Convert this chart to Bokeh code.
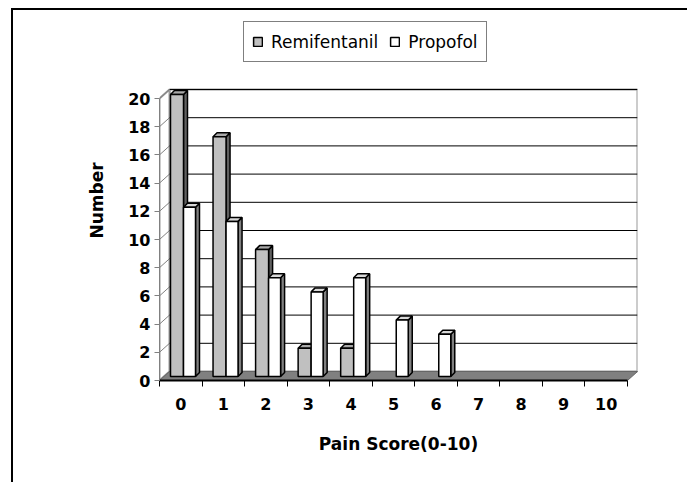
from bokeh.plotting import figure
from bokeh.models import Range1d, FixedTicker, Legend, LegendItem, ColumnDataSource
from bokeh.embed import file_html
from bokeh.resources import INLINE

# ---- data ----
categories = [0, 1, 2, 3, 4, 5, 6, 7, 8, 9, 10]
cat_labels = ["0", "1", "2", "3", "4", "5", "6", "7", "8", "9", "10"]
remifentanil = [20, 17, 9, 2, 2, 0, 0, 0, 0, 0, 0]
propofol = [12, 11, 7, 6, 7, 4, 3, 0, 0, 0, 0]
y_ticks = [0, 2, 4, 6, 8, 10, 12, 14, 16, 18, 20]
series_names = ["Remifentanil", "Propofol"]

# ---- layout (pixels) ----
W, H = 676, 474
FL, FT, FW, FH = 146, 10, 478, 360
WALL_H = 291
DX_PX, DY_PX = 10, 9           # wall depth
BAR_DX_PX, BAR_DY_PX = 4, 4    # bar depth
LIFT_PX = 4
n = len(categories)
y_top = y_ticks[-1]
PXX = (FW - DX_PX) / n
PXY = (WALL_H - DY_PX) / y_top
dx, dy = DX_PX / PXX, DY_PX / PXY
bx, by = BAR_DX_PX / PXX, BAR_DY_PX / PXY
lift = LIFT_PX / PXY
x0 = categories[0] - 0.5
x1 = categories[-1] + 0.5

p = figure(width=W, height=H, output_backend="svg", toolbar_location=None,
           x_range=Range1d(x0, x1 + dx), y_range=Range1d(0, FH / PXY),
           min_border_left=FL, min_border_top=FT,
           min_border_right=W - FL - FW, min_border_bottom=H - FT - FH)
p.styles = {"border-left": "2px solid #000", "border-top": "2px solid #000",
            "margin-left": "11px", "margin-top": "8px"}
p.outline_line_color = None
p.grid.visible = False
p.background_fill_color = "white"
p.border_fill_color = "white"

# walls and floor
p.patch([x0 + dx, x1 + dx, x1 + dx, x0 + dx], [dy, dy, y_top + dy, y_top + dy],
        fill_color="white", line_color="#999999", line_width=2)
p.patch([x0, x0 + dx, x0 + dx, x0], [0, dy, y_top + dy, y_top],
        fill_color="white", line_color="#999999", line_width=2)
p.segment(x0=[x0 + dx] * len(y_ticks), y0=[t + dy for t in y_ticks],
          x1=[x1 + dx] * len(y_ticks), y1=[t + dy for t in y_ticks],
          line_color="#000000", line_width=1)
p.segment(x0=[x0] * len(y_ticks), y0=y_ticks,
          x1=[x0 + dx] * len(y_ticks), y1=[t + dy for t in y_ticks],
          line_color="#808080", line_width=1)
p.patch([x0, x1, x1 + dx, x0 + dx], [0, 0, dy, dy],
        fill_color="#808080", line_color="#666666", line_width=1)

# bars
bar_px = [(11, 24), (24, 36)]
styles = [("#C0C0C0", "#A8A8A8", "#606060"), ("#FFFFFF", "#D8D8D8", "#808080")]
fronts = []
for vals, (a, b), (cf, ct, cs) in zip([remifentanil, propofol], bar_px, styles):
    L, R, B, T = [], [], [], []
    tx, ty, sx, sy = [], [], [], []
    for c, v in zip(categories, vals):
        if v <= 0:
            continue
        l = c - 0.5 + a / PXX
        r = c - 0.5 + b / PXX
        bt = lift
        t = v + lift
        L.append(l); R.append(r); B.append(bt); T.append(t)
        tx.append([l, r, r + bx, l + bx]); ty.append([t, t, t + by, t + by])
        sx.append([r, r + bx, r + bx, r]); sy.append([bt, bt + by, t + by, t])
    p.patches(sx, sy, fill_color=cs, line_color="black", line_width=1.5)
    p.patches(tx, ty, fill_color=ct, line_color="black", line_width=1.5)
    src = ColumnDataSource(dict(left=L, right=R, bottom=B, top=T))
    fronts.append(p.quad(left="left", right="right", bottom="bottom", top="top",
                         source=src, fill_color=cf, line_color="black", line_width=1.5))

# axes
FONT = "DejaVu Sans"
p.xaxis.ticker = FixedTicker(ticks=categories,
                             minor_ticks=[c - 0.5 for c in categories] + [x1])
p.xaxis.major_label_overrides = {c: s for c, s in zip(categories, cat_labels)}
p.xaxis.bounds = (x0, x1)
p.xaxis.major_tick_out = 0
p.xaxis.major_tick_in = 0
p.xaxis.minor_tick_out = 6
p.xaxis.minor_tick_in = 0
p.xaxis.minor_tick_line_color = "black"
p.xaxis.axis_line_color = "black"
p.xaxis.axis_line_width = 2
p.xaxis.major_label_standoff = 11
p.xaxis.axis_label = "Pain Score(0-10)"
p.xaxis.axis_label_standoff = 21

p.yaxis.ticker = FixedTicker(ticks=y_ticks, minor_ticks=[])
p.yaxis.bounds = (0, y_top)
p.yaxis.major_tick_out = 5
p.yaxis.major_tick_in = 0
p.yaxis.axis_line_color = "#808080"
p.yaxis.major_tick_line_color = "#808080"
p.yaxis.major_label_standoff = 4
p.yaxis.axis_label = "Number"
p.yaxis.axis_label_standoff = 18

for ax in (p.xaxis, p.yaxis):
    ax.major_label_text_font = FONT
    ax.major_label_text_font_style = "bold"
    ax.major_label_text_font_size = "16px"
    ax.major_label_text_color = "black"
    ax.axis_label_text_font = FONT
    ax.axis_label_text_font_style = "bold"
    ax.axis_label_text_font_size = "17px"
    ax.axis_label_text_color = "black"

legend = Legend(items=[LegendItem(label=s, renderers=[r]) for s, r in zip(series_names, fronts)],
                orientation="horizontal", location=(84, 318))
legend.padding = 8
legend.margin = 0
legend.spacing = 11
legend.label_standoff = 8
legend.glyph_width = 11
legend.glyph_height = 11
legend.label_height = 23
legend.label_text_font = FONT
legend.label_text_font_size = "17px"
legend.label_text_color = "black"
legend.border_line_color = "black"
legend.border_line_width = 1
legend.background_fill_alpha = 1
p.add_layout(legend, "center")

open("out.html", "w").write(file_html(p, INLINE))
